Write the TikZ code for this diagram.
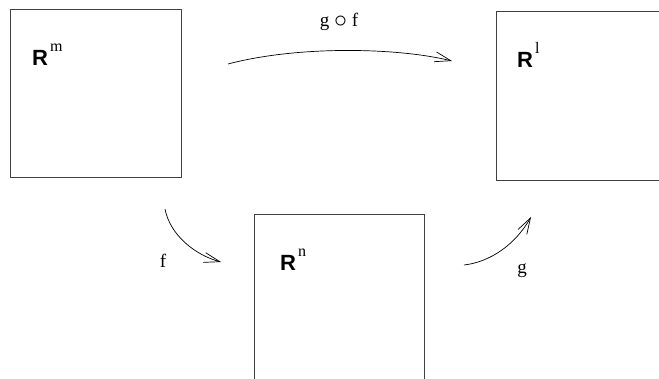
\documentclass[tikz,border=0pt]{standalone}
\usepackage{fontspec}
\setmainfont{Liberation Serif}
\setsansfont{Liberation Sans}
\usetikzlibrary{arrows.meta, positioning}

\newcommand{\dimsup}[1]{\hspace{2pt}\raisebox{14pt}{\fontsize{16}{16}\selectfont\rmfamily\mdseries #1}}

\begin{document}
\begin{tikzpicture}[
  x=1pt, y=-1pt,
  spacebox/.style={draw=black!75, line width=1pt, minimum width=171pt, minimum height=169pt, anchor=north west, inner sep=0pt},
  spacename/.style={anchor=base west, inner sep=0pt, font=\fontsize{22}{22}\selectfont\sffamily\bfseries},
  maplabel/.style={anchor=base, inner sep=0pt, font=\fontsize{19}{19}\selectfont},
  maparrow/.style={line width=0.7pt, -{Straight Barb[length=16pt, width=10pt]}}
]
  \useasboundingbox (0,0) rectangle (659,378);
  \clip (0,0) rectangle (659,378);

  % the three spaces
  \node[spacebox, minimum height=168pt] (Rm) at (10,9) {};
  \node[spacebox] (Rl) at (496,11) {};
  \node[spacebox, minimum width=170pt, minimum height=175pt] (Rn) at (254,214) {};

  \node[spacename] (Rmname) at ([shift={(22,56)}]Rm.north west) {R\dimsup{m}};
  \node[spacename] (Rlname) at ([shift={(21,56)}]Rl.north west) {R\dimsup{l}};
  \node[spacename] (Rnname) at ([shift={(26,56)}]Rn.north west) {R\dimsup{n}};

  % maps
  \coordinate (gf-start) at (228,64);
  \coordinate (gf-end) at (452,61);
  \coordinate (f-start) at (165,209);
  \coordinate (f-end) at (221,262);
  \coordinate (g-start) at (464,265);
  \coordinate (g-end) at (531,217);

  \draw[maparrow] (gf-start) .. controls (300,45) and (400,48) .. (gf-end);
  \draw[maparrow] (f-start) .. controls (170,235) and (195,255) .. (f-end);
  \draw[maparrow] (g-start) .. controls (490,262) and (515,245) .. (g-end);

  \node[maplabel] (gflabel) at (339,26) {g \raisebox{-1pt}{\scalebox{1.5}{$\circ$}} f};
  \node[maplabel] (flabel) at (163,267) {f};
  \node[maplabel] (glabel) at (522,273) {g};
\end{tikzpicture}
\end{document}
